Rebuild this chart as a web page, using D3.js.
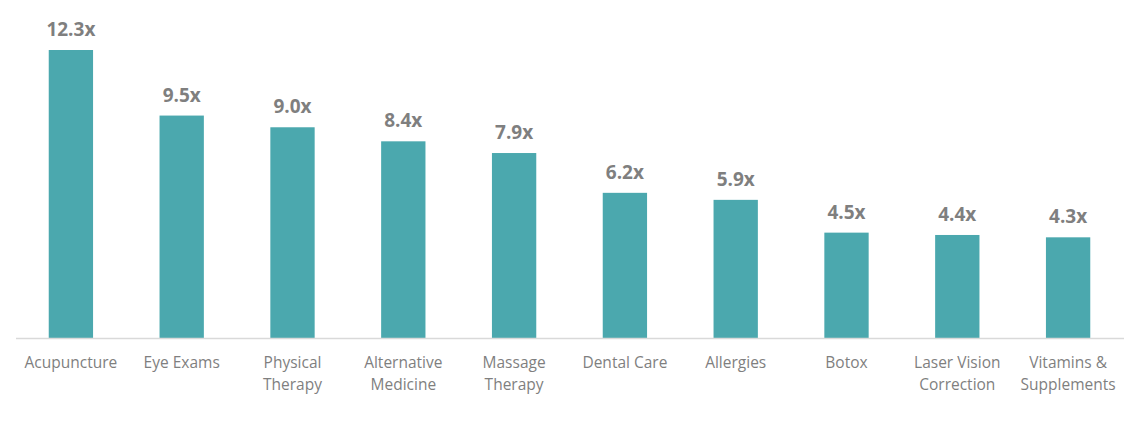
<!DOCTYPE html>
<html>
<head>
<meta charset="utf-8">
<script src="https://cdn.jsdelivr.net/npm/d3@7"></script>
<style>
	body { margin: 0; background: #fff; }
	text { font-family: "Open Sans", "Noto Sans", sans-serif; }
</style>
</head>
<body>
<svg id="chart" width="1134" height="424"></svg>
<script>
// categories (line breaks as in the reference) and multiples
var categories = [
	["Acupuncture"],
	["Eye Exams"],
	["Physical", "Therapy"],
	["Alternative", "Medicine"],
	["Massage", "Therapy"],
	["Dental Care"],
	["Allergies"],
	["Botox"],
	["Laser Vision", "Correction"],
	["Vitamins &", "Supplements"]
];
var values = [12.3, 9.5, 9.0, 8.4, 7.9, 6.2, 5.9, 4.5, 4.4, 4.3];

var barColor  = "#4ba8ae";
var textColor = "#7f7f7f";
var axisColor = "#d9d9d9";

var svg = d3.select("#chart");
var baseY = 338;

var x = d3.scaleBand()
	.domain(categories.map(function(c, i){ return i; }))
	.range([15.5, 1123.5])
	.paddingInner(0.6)
	.paddingOuter(0.3);

var y = d3.scaleLinear()
	.domain([0, 14])
	.range([baseY, 10.2]);

//bars
svg.append("g").selectAll("rect")
	.data(values)
	.enter().append("rect")
		.attr("x", function(d, i){ return x(i); })
		.attr("y", function(d){ return y(d); })
		.attr("width", x.bandwidth())
		.attr("height", function(d){ return baseY - y(d); })
		.attr("fill", barColor);

//axis line
var xAxis = d3.axisBottom(x).tickSize(0).tickFormat("");
var gAxis = svg.append("g")
	.attr("transform", "translate(0," + baseY + ")")
	.call(xAxis);
gAxis.select(".domain").attr("stroke", axisColor).attr("stroke-width", 1.3);

//value labels
svg.append("g").selectAll("text")
	.data(values)
	.enter().append("text")
		.attr("x", function(d, i){ return x(i) + x.bandwidth()/2; })
		.attr("y", function(d){ return y(d) - 14; })
		.attr("text-anchor", "middle")
		.attr("fill", textColor)
		.style("font-size", "19px")
		.style("font-weight", "bold")
		.text(function(d){ return d.toFixed(1) + "x"; });

//category labels
var gLabels = svg.append("g");
categories.forEach(function(lines, i){
	var t = gLabels.append("text")
		.attr("x", x(i) + x.bandwidth()/2)
		.attr("y", baseY + 30)
		.attr("text-anchor", "middle")
		.attr("fill", textColor)
		.style("font-size", "15.5px");
	lines.forEach(function(line, j){
		t.append("tspan")
			.attr("x", x(i) + x.bandwidth()/2)
			.attr("dy", j == 0 ? 0 : 22)
			.text(line);
	});
});
</script>
</body>
</html>
